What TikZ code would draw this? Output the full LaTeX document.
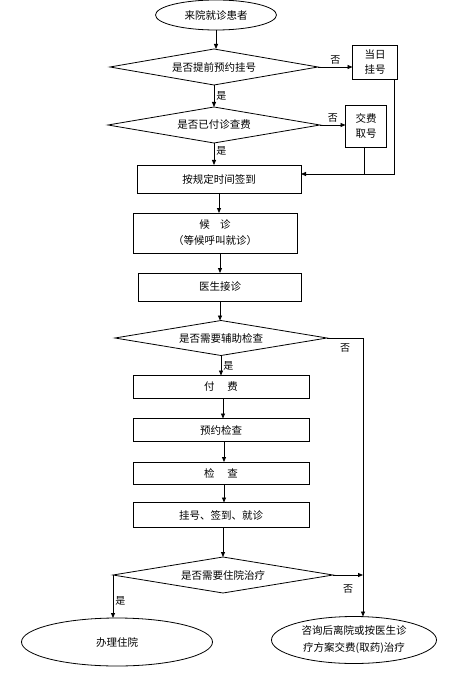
\documentclass[tikz,border=0pt]{standalone}
\usepackage{fontspec}
\setmainfont{Noto Sans CJK SC}
\usepackage{tikz}
\usetikzlibrary{arrows.meta,positioning,shapes.geometric,calc}

\begin{document}
\begin{tikzpicture}[x=1pt,y=-1pt,>={Triangle[length=5pt,width=4pt]},line width=0.8pt,font=\fontsize{10.5}{15}\selectfont]
  \tikzstyle{box}=[draw,align=center,inner sep=0pt,outer sep=0pt]
  \tikzstyle{ask}=[draw,diamond,aspect=6,inner sep=0pt,outer sep=0pt]
  \tikzstyle{oval}=[draw,ellipse,align=center,inner sep=0pt,outer sep=0pt]
  \tikzstyle{lab}=[font=\fontsize{10}{12}\selectfont,inner sep=2pt]
  \useasboundingbox (0,0) rectangle (455,676);
  \node[oval,minimum width=121pt,minimum height=30pt] (s) at (216,15) {来院就诊患者};
  \node[ask,minimum width=208pt,minimum height=36pt] (d1) at (214,67) {是否提前预约挂号};
  \node[box,minimum width=45pt,minimum height=34pt] (r1) at (375,62) {当日\\挂号};
  \node[ask,minimum width=212pt,minimum height=36pt] (d2) at (214,125) {是否已付诊查费};
  \node[box,minimum width=41pt,minimum height=42pt] (r2) at (366,126) {交费\\取号};
  \node[box,minimum width=164pt,minimum height=28pt] (sign) at (219,179) {按规定时间签到};
  \node[box,minimum width=164pt,minimum height=40pt,font=\fontsize{10.5}{16}\selectfont] (wait) at (215,233) {候\hspace{1em}诊\\（等候呼叫就诊）};
  \node[box,minimum width=163pt,minimum height=28pt] (doc) at (220,287) {医生接诊};
  \node[ask,minimum width=212pt,minimum height=35pt] (d3) at (221,338) {是否需要辅助检查};
  \node[box,minimum width=176pt,minimum height=23pt] (pay) at (221,387) {付\hspace{1.2em}费};
  \node[box,minimum width=176pt,minimum height=23pt] (book) at (221,430) {预约检查};
  \node[box,minimum width=176pt,minimum height=22pt] (exam) at (221,473) {检\hspace{1.2em}查};
  \node[box,minimum width=176pt,minimum height=25pt] (reg) at (221,515) {挂号、签到、就诊};
  \node[ask,minimum width=220pt,minimum height=36pt] (d4) at (223,575) {是否需要住院治疗};
  \node[oval,minimum width=191pt,minimum height=48pt] (e1) at (117,642) {办理住院};
  \node[oval,minimum width=165pt,minimum height=47pt,font=\fontsize{10.5}{17}\selectfont] (e2) at (354,640) {咨询后离院或按医生诊\\疗方案交费(取药)治疗};
  \coordinate (in) at ($(sign.east)+(0,-5)$);
  \coordinate (k) at (363,338);
  \draw[->] (s.south) -- (s.south |- d1.north);
  \draw[->] (d1.east) -- node[lab,above] {否} (d1.east -| r1.west);
  \draw[->] (d1.south) -- node[lab,right] {是} (d1.south |- d2.north);
  \draw[->] (d2.east) -- node[lab,above] {否} (d2.east -| r2.west);
  \draw[->] (d2.south) -- node[lab,right,pos=0.35] {是} (d2.south |- sign.north);
  \draw[->] ($(r1.south)+(19,0)$) |- (in);
  \draw ($(r2.south)+(-2,0)$) -- ($(r2.south |- in)+(-2,0)$);
  \draw[->] (sign.south) -- (sign.south |- wait.north);
  \draw[->] (wait.south) ++(5,0) -- ($(wait.south |- doc.north)+(5,0)$);
  \draw[->] (doc.south) -- (doc.south |- d3.north);
  \draw[->] (d3.south) -- node[lab,right] {是} (d3.south |- pay.north);
  \draw[->] ($(pay.south)+(2,0)$) -- ($(pay.south |- book.north)+(2,0)$);
  \draw[->] ($(book.south)+(3,0)$) -- ($(book.south |- exam.north)+(3,0)$);
  \draw[->] ($(exam.south)+(3,0)$) -- ($(exam.south |- reg.north)+(3,0)$);
  \draw[->] ($(reg.south)+(2,0)$) -- (d4.north);
  \draw[->] (d3.east) -- node[lab,below=3pt] {否} (k) -- (k |- e2.north);
  \draw[->] (d4.east) -- node[lab,below=7pt] {否} (d4.east -| k);
  \draw[->] (d4.west) -- node[lab,right,pos=0.6] {是} (d4.west |- e1.north);
\end{tikzpicture}
\end{document}
